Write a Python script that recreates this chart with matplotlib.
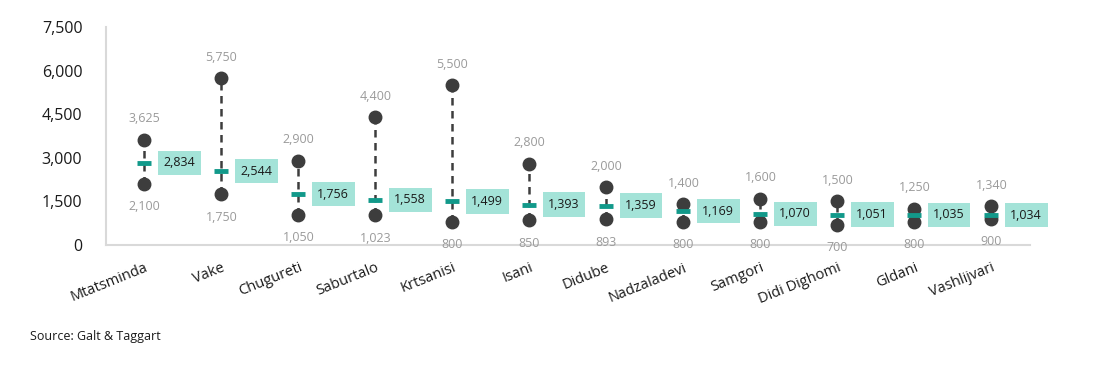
import matplotlib.pyplot as plt
from matplotlib.ticker import FuncFormatter

# --- DATA ---
districts = ["Mtatsminda", "Vake", "Chugureti", "Saburtalo", "Krtsanisi", "Isani",
             "Didube", "Nadzaladevi", "Samgori", "Didi Dighomi", "Gldani", "Vashlijvari"]
max_price = [3625, 5750, 2900, 4400, 5500, 2800, 2000, 1400, 1600, 1500, 1250, 1340]
min_price = [2100, 1750, 1050, 1023, 800, 850, 893, 800, 800, 700, 800, 900]
avg_price = [2834, 2544, 1756, 1558, 1499, 1393, 1359, 1169, 1070, 1051, 1035, 1034]
y_ticks = [0, 1500, 3000, 4500, 6000, 7500]

plt.rcParams['font.family'] = ['Open Sans', 'DejaVu Sans']

dark = '#3d3d3d'
teal = '#12998a'
box_fill = '#a4e3d8'
grey_txt = '#9a9a9a'

fig = plt.figure(figsize=(10.95, 3.77), dpi=100)
ax = fig.add_axes([0.0968, 0.350, 0.8438, 0.578])

x = list(range(len(districts)))

# dashed range line between min and max
for i in x:
    ax.plot([i, i], [min_price[i], max_price[i]], color=dark, lw=1.8,
            dashes=(3, 2.2), zorder=1)
ax.plot(x, max_price, 'o', color=dark, ms=9, zorder=2)
ax.plot(x, min_price, 'o', color=dark, ms=9, zorder=2)
ax.plot(x, avg_price, '_', color=teal, ms=10, mew=3.5, zorder=3)

fmt = lambda v: f"{v:,}"
for i in x:
    ax.annotate(fmt(max_price[i]), (i, max_price[i]), xytext=(0, 15),
                textcoords='offset points', ha='center', va='center',
                fontsize=9, color=grey_txt)
    ax.annotate(fmt(min_price[i]), (i, min_price[i]), xytext=(0, -16.5),
                textcoords='offset points', ha='center', va='center',
                fontsize=9, color=grey_txt)
    ax.annotate(fmt(avg_price[i]), (i, avg_price[i]), xytext=(13.5, 0),
                textcoords='offset points', ha='left', va='center',
                fontsize=9, color='#1a1a1a',
                bbox=dict(boxstyle='square,pad=0.45', fc=box_fill, ec='none'),
                zorder=4)

ax.set_xlim(-0.5, 11.5)
ax.set_ylim(0, 7500)
ax.set_yticks(y_ticks)
ax.yaxis.set_major_formatter(FuncFormatter(lambda v, p: f"{int(v):,}"))
ax.set_xticks(x)
ax.set_xticklabels(districts, rotation=22, ha='right', rotation_mode='anchor',
                   fontsize=10.5, color='#1a1a1a')
ax.tick_params(axis='y', length=0, pad=17, labelsize=11.5, labelcolor='#1a1a1a')
ax.tick_params(axis='x', length=0, pad=11)

for s in ['top', 'right']:
    ax.spines[s].set_visible(False)
for s in ['left', 'bottom']:
    ax.spines[s].set_color('#d9d9d9')
    ax.spines[s].set_linewidth(1.5)

fig.text(0.027, 0.108, "Source: Galt & Taggart", fontsize=9, color='#1a1a1a',
         ha='left', va='center')

fig.savefig('out.png', dpi=100)
